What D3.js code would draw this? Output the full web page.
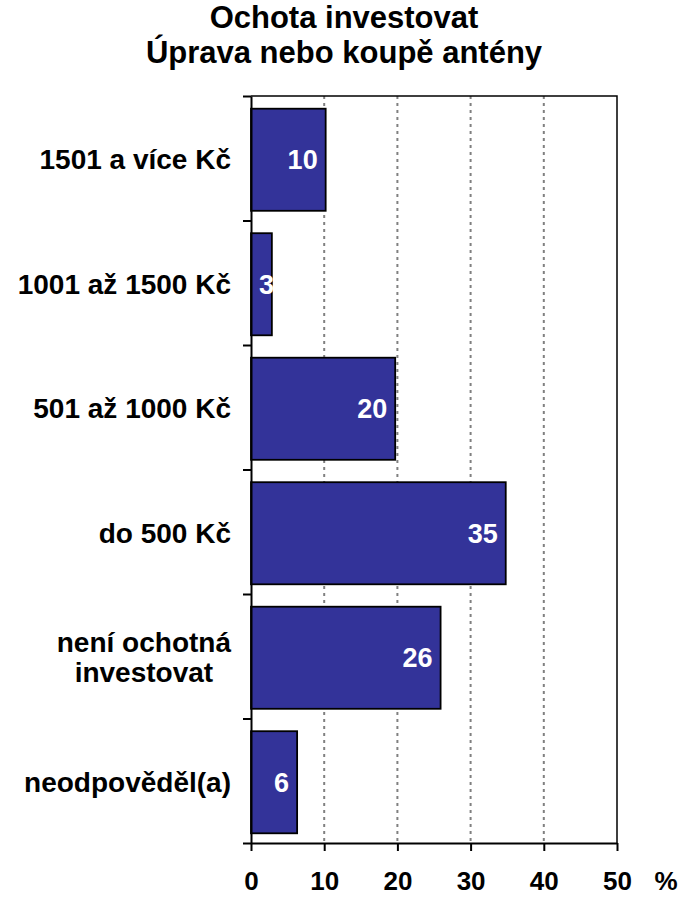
<!DOCTYPE html>
<html>
<head>
<meta charset="utf-8">
<script src="https://cdn.jsdelivr.net/npm/d3@7"></script>
<style>
	body { margin: 0; background: #fff; }
	text { font-family: "Liberation Sans", Arial, sans-serif; font-weight: bold; }
</style>
</head>
<body>
<div class="chart"></div>
<script>
// data
const categories = ['1501 a více Kč', '1001 až 1500 Kč', '501 až 1000 Kč', 'do 500 Kč', 'není ochotná\ninvestovat', 'neodpověděl(a)'];
const values = [10.2, 2.85, 19.7, 34.8, 25.9, 6.3];
const xTicks = [0, 10, 20, 30, 40, 50];
const titleLines = ['Ochota investovat', 'Úprava nebo koupě antény'];

const margin = { top: 96, right: 64, bottom: 54, left: 251 };
const width = 681 - margin.left - margin.right;
const height = 897 - margin.top - margin.bottom;

const svg = d3.select('.chart')
	.append('svg')
		.attr('width', 681)
		.attr('height', 897);

// title
svg.append('text')
	.attr('x', 344)
	.attr('y', 28)
	.style('text-anchor', 'middle')
	.style('font-size', '31px')
	.selectAll('tspan')
	.data(titleLines)
	.enter()
	.append('tspan')
		.attr('x', 344)
		.attr('dy', (d, i) => i === 0 ? 0 : 35)
		.text(d => d);

const g = svg.append('g')
	.attr('transform', `translate(${margin.left}, ${margin.top})`);

const xScale = d3.scaleLinear()
	.domain([0, 50])
	.range([0, width]);

const yScale = d3.scaleBand()
	.domain(categories)
	.range([0, height])
	.paddingInner(0.18)
	.paddingOuter(0.09);

// band edges for the y ticks
const yEdge = d3.scaleLinear()
	.domain([0, categories.length])
	.range([0, height]);

// dashed grid
g.selectAll('.grid')
	.data(xTicks.slice(1, -1))
	.enter()
	.append('line')
		.attr('class', 'grid')
		.attr('x1', d => xScale(d))
		.attr('x2', d => xScale(d))
		.attr('y1', 0)
		.attr('y2', height)
		.style('stroke', '#808080')
		.style('stroke-width', 2)
		.style('stroke-dasharray', '3,4');

// top + right border
g.append('path')
	.attr('d', `M0,0H${width}V${height}`)
	.style('fill', 'none')
	.style('stroke', '#000')
	.style('stroke-width', 1.5);

// bars
const bars = g.selectAll('.bar')
	.data(categories)
	.enter()
	.append('g')
	.attr('class', 'bar')
	.attr('transform', d => `translate(0, ${yScale(d) + 1.5})`);

bars.append('rect')
	.attr('x', 0)
	.attr('width', (d, i) => xScale(values[i]))
	.attr('height', yScale.bandwidth())
	.style('fill', '#333399')
	.style('stroke', '#000')
	.style('stroke-width', 1.8);

bars.append('text')
	.style('fill', '#fff')
	.style('font-size', '27px')
	.style('text-anchor', 'end')
	.attr('y', yScale.bandwidth() / 2 + 9.5)
	.text((d, i) => d3.format('.0f')(values[i]))
	.attr('x', function (d, i) {
		const w = this.getComputedTextLength();
		return Math.max(xScale(values[i]) - 8, w + 8);
	});

// axes
const yAxis = d3.axisLeft(yEdge)
	.tickValues(d3.range(categories.length + 1))
	.tickSize(8)
	.tickSizeOuter(0)
	.tickFormat('');
g.append('g').call(yAxis);

const xAxis = d3.axisBottom(xScale)
	.tickValues(xTicks)
	.tickSize(8)
	.tickSizeOuter(0)
	.tickPadding(21);
g.append('g')
	.attr('transform', `translate(0, ${height})`)
	.call(xAxis);

g.selectAll('.domain, .tick line')
	.style('stroke', '#000')
	.style('stroke-width', 2);
g.selectAll('.tick text')
	.style('font-size', '26px')
	.style('font-family', '"Liberation Sans", Arial, sans-serif')
	.style('fill', '#000');

// unit label
g.append('text')
	.attr('x', width + 49)
	.attr('y', height + 47)
	.style('text-anchor', 'middle')
	.style('font-size', '26px')
	.text('%');

// category labels, multi-line labels centred on each other
const labelRight = -20;
g.selectAll('.cat')
	.data(categories)
	.enter()
	.append('text')
	.attr('class', 'cat')
	.style('font-size', '28px')
	.each(function (d) {
		const lines = d.split('\n');
		const t = d3.select(this);
		const cy = yScale(d) + yScale.bandwidth() / 2 + 1.5;
		const spans = t.selectAll('tspan')
			.data(lines)
			.enter()
			.append('tspan')
			.text(l => l);
		const widths = spans.nodes().map(n => n.getComputedTextLength());
		const maxW = d3.max(widths);
		const x0 = labelRight - maxW / 2;
		spans
			.attr('x', x0)
			.attr('y', (l, i) => cy + 9.5 + (i - (lines.length - 1) / 2) * 30)
			.style('text-anchor', 'middle');
	});
</script>
</body>
</html>
